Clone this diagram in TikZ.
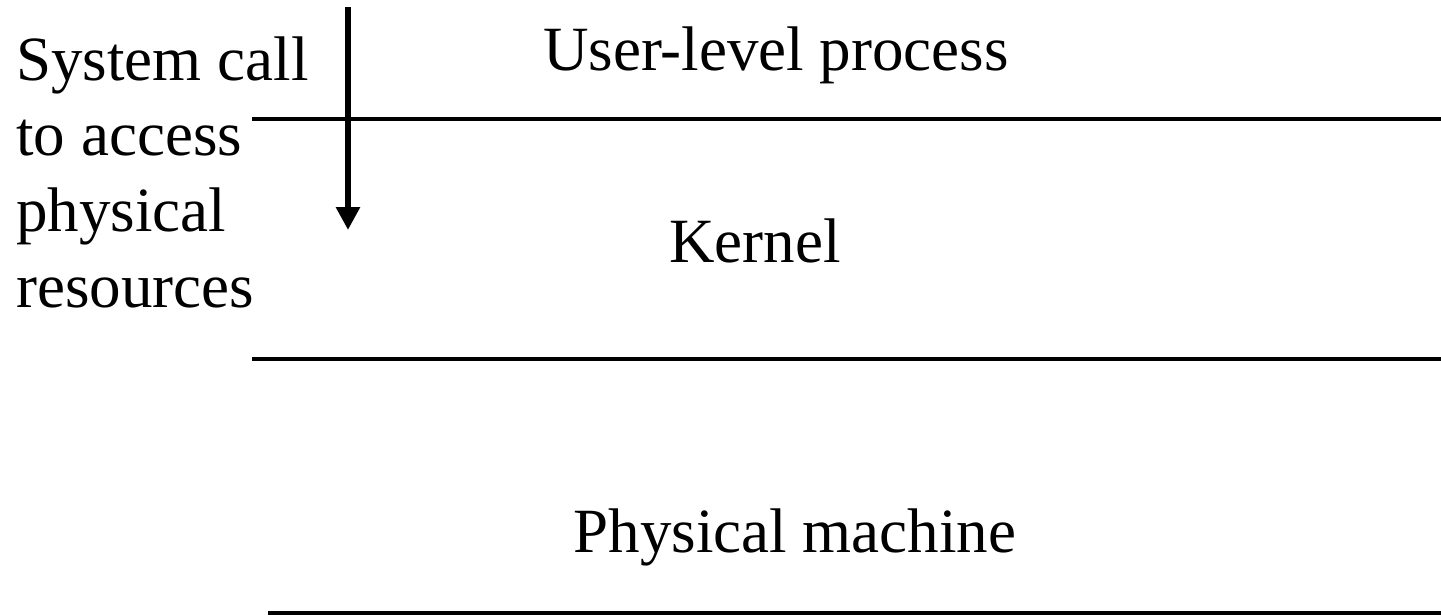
\documentclass[tikz,border=0pt]{standalone}
\usepackage{fontspec}
\setmainfont{Liberation Serif}
\usetikzlibrary{arrows.meta}

\tikzset{
  layertext/.style={anchor=base,inner sep=0pt,font=\fontsize{31.5pt}{37.8pt}\selectfont},
  boundary/.style={line width=1.75pt},
  callarrow/.style={line width=3pt,-{Triangle[width=11.5pt,length=11.5pt]}}
}

\begin{document}
\begin{tikzpicture}[x=0.5pt,y=-0.5pt]
    \useasboundingbox (0,0) rectangle (1441,615);
		\node [layertext] (user) at (776,71) {User-level process};
		\node [layertext] (kernel) at (755,263) {Kernel};
		\node [layertext] (machine) at (795,552) {Physical machine};
		\node [layertext,anchor=base west,align=left] (syscall) at (16,307)
			{System call\\to access\\physical\\resources};
    % boundaries between the layers
    \foreach \y/\x in {119/252,359/252,613/268}
			\draw [boundary] (\x,\y) -- (1441,\y);
    \coordinate (callstart) at (348,7);
    \coordinate (callend) at (348,230);
    \draw [callarrow] (callstart) -- (callend);
  \end{tikzpicture}
\end{document}
